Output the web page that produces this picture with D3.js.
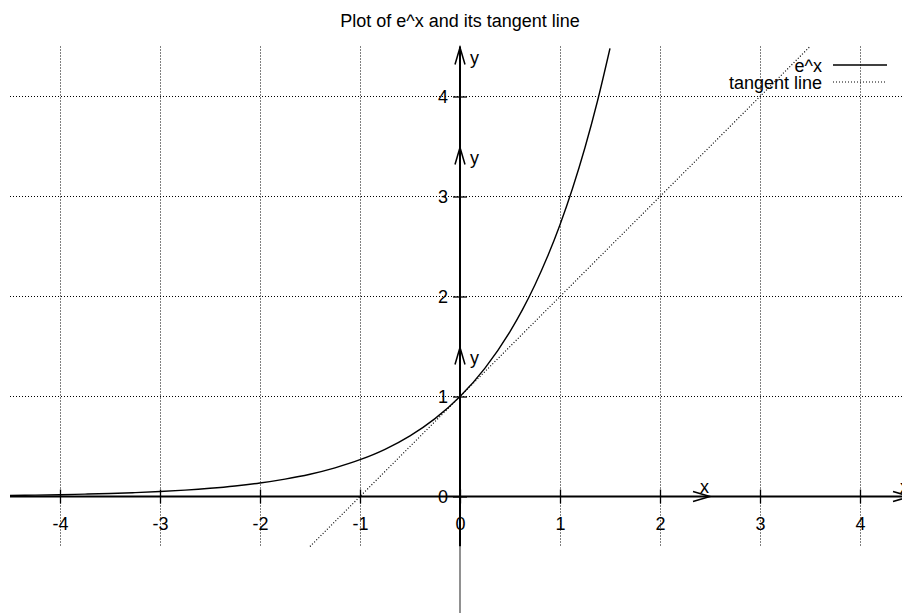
<!DOCTYPE html>
<html>
<head>
<meta charset="utf-8">
<script src="https://cdn.jsdelivr.net/npm/d3@7"></script>
<style>
  html, body { margin: 0; padding: 0; background: #fff; }
  svg { display: block; }
  text { font-family: "Liberation Sans", Arial, Helvetica, sans-serif; fill: #000; }
</style>
</head>
<body>
<svg id="chart" width="902" height="613"></svg>
<script>
// Sampled points of y = e^x
const expX = [-4.5, -4.25, -4, -3.75, -3.5, -3.25, -3, -2.75, -2.5, -2.25, -2, -1.75, -1.5, -1.25, -1,
              -0.75, -0.5, -0.25, 0, 0.25, 0.5, 0.625, 0.75, 0.875, 1, 1.125, 1.25, 1.375, 1.5];
const expY = [0.011, 0.014, 0.018, 0.024, 0.030, 0.039, 0.050, 0.064, 0.082, 0.105, 0.135, 0.174, 0.223, 0.287, 0.368,
              0.472, 0.607, 0.779, 1, 1.284, 1.649, 1.868, 2.117, 2.399, 2.718, 3.080, 3.490, 3.955, 4.482];

// Tangent line at x = 0: y = x + 1
const tangentX = [-1.5, 3.5];
const tangentY = [-0.5, 4.5];

const xTicks = [-4, -3, -2, -1, 0, 1, 2, 3, 4];
const yTicks = [0, 1, 2, 3, 4];
const xArrowAt = [2.5, 4.5];
const yArrowAt = [1.5, 3.5, 4.5];
const legendLabels = ["e^x", "tangent line"];
const titleText = "Plot of e^x and its tangent line";

const svg = d3.select("#chart");
const W = 902, H = 613;
svg.append("rect").attr("width", W).attr("height", H).attr("fill", "#fff");

const x = d3.scaleLinear().domain([-4.5, 4.5]).range([10, 910]);
const y = d3.scaleLinear().domain([-0.5, 4.5]).range([546.5, 46.5]);

const dotted = "1,2";
const plainNum = d => String(d);   // ASCII hyphen for negatives

// grid
const grid = svg.append("g").attr("stroke", "#000").attr("stroke-width", 1).attr("stroke-dasharray", dotted);
grid.selectAll("line.gx").data(xTicks.filter(d => d !== 0)).join("line")
  .attr("x1", d => Math.round(x(d)) + 0.5).attr("x2", d => Math.round(x(d)) + 0.5)
  .attr("y1", y(4.5)).attr("y2", y(-0.5));
grid.selectAll("line.gy").data(yTicks.filter(d => d !== 0)).join("line")
  .attr("y1", d => y(d)).attr("y2", d => y(d))
  .attr("x1", x(-4.5)).attr("x2", W);

// axis lines
svg.append("line").attr("x1", x(-4.5)).attr("x2", W).attr("y1", y(0)).attr("y2", y(0))
  .attr("stroke", "#000").attr("stroke-width", 2);
svg.append("line").attr("x1", x(0)).attr("x2", x(0)).attr("y1", y(4.5)).attr("y2", y(-0.5))
  .attr("stroke", "#000").attr("stroke-width", 2);
svg.append("line").attr("x1", x(0)).attr("x2", x(0)).attr("y1", y(-0.5)).attr("y2", H)
  .attr("stroke", "#555").attr("stroke-width", 1.3);

// x axis ticks and labels
const gx = svg.append("g").attr("transform", `translate(0,${y(0)})`)
  .call(d3.axisBottom(x).tickValues(xTicks).tickSize(7).tickSizeOuter(0).tickFormat(plainNum));
gx.select(".domain").remove();
gx.selectAll(".tick line").attr("y1", -7).attr("y2", 7).attr("stroke", "#000").attr("stroke-width", 1.3);
gx.selectAll(".tick text").attr("y", 33.5).attr("dy", 0)
  .style("font-size", "18px").style("font-family", "'Liberation Sans', Arial, sans-serif").attr("fill", "#000");

// y axis ticks and labels
const gy = svg.append("g").attr("transform", `translate(${x(0)},0)`)
  .call(d3.axisLeft(y).tickValues(yTicks).tickSize(7).tickSizeOuter(0).tickFormat(plainNum));
gy.select(".domain").remove();
gy.selectAll(".tick line").attr("x1", 7).attr("x2", -7).attr("stroke", "#000").attr("stroke-width", 1.3);
gy.selectAll(".tick text").attr("x", -12).attr("dy", "0.36em")
  .style("font-size", "18px").style("font-family", "'Liberation Sans', Arial, sans-serif").attr("fill", "#000");

// arrowheads along the axes
const arrows = svg.append("g").attr("fill", "none").attr("stroke", "#000").attr("stroke-width", 1.5);
xArrowAt.forEach(v => {
  const tx = x(v), ty = y(0);
  arrows.append("path").attr("d", `M${tx - 17},${ty - 5}L${tx},${ty}L${tx - 17},${ty + 5}`);
  svg.append("text").attr("x", tx - 10).attr("y", ty - 4).style("font-size", "18px").text("x");
});
yArrowAt.forEach(v => {
  const tx = x(0), ty = y(v) + 1;
  arrows.append("path").attr("d", `M${tx - 5},${ty + 17}L${tx},${ty}L${tx + 5},${ty + 17}`);
  svg.append("text").attr("x", tx + 10).attr("y", ty + 16).style("font-size", "18px").text("y");
});

// e^x curve
const expPts = expX.map((v, i) => [v, expY[i]]);
const line = d3.line().x(d => x(d[0])).y(d => y(d[1])).curve(d3.curveMonotoneX);
svg.append("path").datum(expPts).attr("d", line)
  .attr("fill", "none").attr("stroke", "#000").attr("stroke-width", 1.4);

// tangent line
const tanPts = tangentX.map((v, i) => [v, tangentY[i]]);
svg.append("path").datum(tanPts).attr("d", d3.line().x(d => x(d[0])).y(d => y(d[1])))
  .attr("fill", "none").attr("stroke", "#000").attr("stroke-width", 1.2).attr("stroke-dasharray", dotted);

// legend
const legend = svg.append("g");
legendLabels.forEach((lab, i) => {
  const by = 72 + i * 17;
  legend.append("text").attr("x", 822).attr("y", by).attr("text-anchor", "end")
    .style("font-size", "18px").text(lab);
  legend.append("line").attr("x1", 833).attr("x2", 887).attr("y1", by - 7).attr("y2", by - 7)
    .attr("stroke", "#000").attr("stroke-width", i === 0 ? 1.4 : 1)
    .attr("stroke-dasharray", i === 0 ? null : dotted);
});

// title
svg.append("text").attr("x", 460).attr("y", 26.5).attr("text-anchor", "middle")
  .style("font-size", "18px").text(titleText);
</script>
</body>
</html>
